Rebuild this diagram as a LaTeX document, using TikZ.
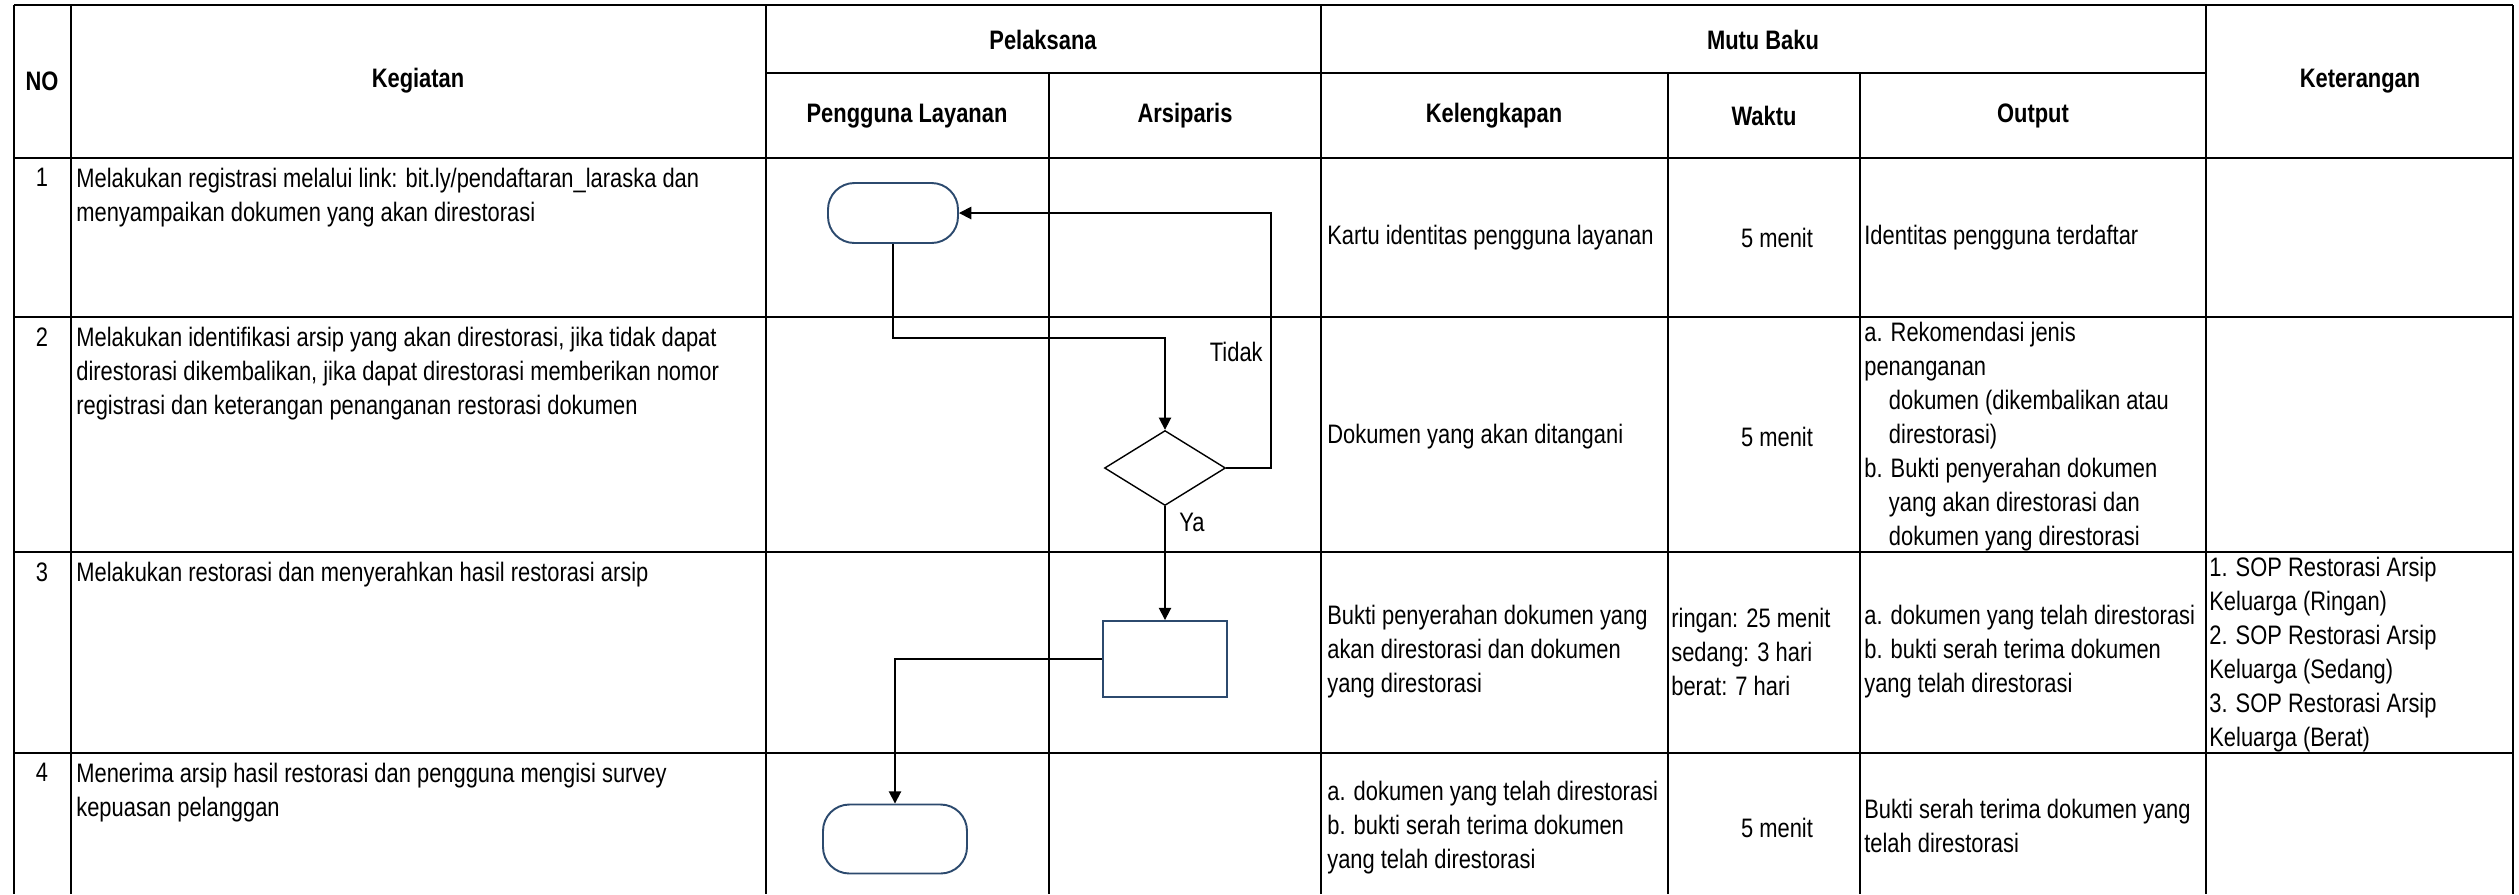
\documentclass[tikz,border=0pt]{standalone}
\usepackage{fontspec}
\setmainfont{Liberation Sans}[FakeStretch=0.82]
\usetikzlibrary{positioning, arrows.meta, shapes.geometric}
\definecolor{navy}{HTML}{2C4A6E}

\begin{document}
\begin{tikzpicture}[
    x=0.02cm, y=0.02cm,
    >={Triangle[length=7pt,width=7pt]},
    grid/.style={line width=1.55pt},
    flow/.style={->, line width=1pt},
    head/.style={font=\fontsize{15.2pt}{19.35pt}\selectfont\bfseries, inner sep=0pt},
    cell/.style={font=\fontsize{15.2pt}{19.35pt}\selectfont, align=left, inner sep=0pt},
    term/.style={draw=navy, line width=1.1pt, rounded corners=15pt},
    procbox/.style={draw=navy, line width=1.1pt, minimum width=2.48cm, minimum height=1.52cm},
    decision/.style={draw, diamond, line width=0.8pt, inner sep=0pt, minimum width=2.42cm, minimum height=1.5cm},
]
\useasboundingbox (0,0) rectangle (2519,-894);

% Table grid
\draw[grid] (14,-5) -- (2513,-5);
\draw[grid] (14,-5) -- (14,-894);
\draw[grid] (2513,-5) -- (2513,-894);
\foreach \x in {71, 766, 1321, 2206}
  \draw[grid] (\x,-5) -- (\x,-894);
\foreach \x in {1049, 1668, 1860}
  \draw[grid] (\x,-73) -- (\x,-894);
\draw[grid] (766,-73) -- (2206,-73);
\foreach \y in {158, 317, 552, 753}
  \draw[grid] (14,-\y) -- (2513,-\y);

% Header
\node[head] (hno) at (42,-81) {NO};
\node[head] (hkeg) at (418,-81) {Kegiatan};
\node[head] (hpel) at (1043,-40) {Pelaksana};
\node[head] (hmutu) at (1763,-40) {Mutu Baku};
\node[head] (hket) at (2360,-81) {Keterangan};
\node[head] (hpeng) at (907,-116) {Pengguna Layanan};
\node[head] (hars) at (1185,-116) {Arsiparis};
\node[head] (hkel) at (1494,-116) {Kelengkapan};
\node[head] (hwkt) at (1764,-116) {Waktu};
\node[head] (hout) at (2033,-116) {Output};

% Row 1
\node[cell, anchor=north] (no1) at (42,-168) {1};
\node[cell, anchor=north west] (keg1) at (76,-168) {Melakukan registrasi melalui link: bit.ly/pendaftaran\_laraska dan\\menyampaikan dokumen yang akan direstorasi};
\node[cell, anchor=west] (kel1) at (1327,-238) {Kartu identitas pengguna layanan};
\node[cell] (wkt1) at (1777,-238) {5 menit};
\node[cell, anchor=west] (out1) at (1864,-238) {Identitas pengguna terdaftar};

% Row 2
\node[cell, anchor=north] (no2) at (42,-327) {2};
\node[cell, anchor=north west] (keg2) at (76,-327) {Melakukan identifikasi arsip yang akan direstorasi, jika tidak dapat\\direstorasi dikembalikan, jika dapat direstorasi memberikan nomor\\registrasi dan keterangan penanganan restorasi dokumen};
\node[cell, anchor=west] (kel2) at (1327,-437) {Dokumen yang akan ditangani};
\node[cell] (wkt2) at (1777,-437) {5 menit};
\node[cell, anchor=west] (out2) at (1864,-437) {a. Rekomendasi jenis\\penanganan\\\hspace*{14pt}dokumen (dikembalikan atau\\\hspace*{14pt}direstorasi)\\b. Bukti penyerahan dokumen\\\hspace*{14pt}yang akan direstorasi dan\\\hspace*{14pt}dokumen yang direstorasi};

% Row 3
\node[cell, anchor=north] (no3) at (42,-562) {3};
\node[cell, anchor=north west] (keg3) at (76,-562) {Melakukan restorasi dan menyerahkan hasil restorasi arsip};
\node[cell, anchor=west] (kel3) at (1327,-652) {Bukti penyerahan dokumen yang\\akan direstorasi dan dokumen\\yang direstorasi};
\node[cell, anchor=west] (wkt3) at (1671,-652) {ringan: 25 menit\\sedang: 3 hari\\berat: 7 hari};
\node[cell, anchor=west] (out3) at (1864,-652) {a. dokumen yang telah direstorasi\\b. bukti serah terima dokumen\\yang telah direstorasi};
\node[cell, anchor=west] (ket3) at (2209,-655) {1. SOP Restorasi Arsip\\Keluarga (Ringan)\\2. SOP Restorasi Arsip\\Keluarga (Sedang)\\3. SOP Restorasi Arsip\\Keluarga (Berat)};

% Row 4
\node[cell, anchor=north] (no4) at (42,-763) {4};
\node[cell, anchor=north west] (keg4) at (76,-763) {Menerima arsip hasil restorasi dan pengguna mengisi survey\\kepuasan pelanggan};
\node[cell, anchor=west] (kel4) at (1327,-828) {a. dokumen yang telah direstorasi\\b. bukti serah terima dokumen\\yang telah direstorasi};
\node[cell] (wkt4) at (1777,-828) {5 menit};
\node[cell, anchor=west] (out4) at (1864,-826) {Bukti serah terima dokumen yang\\telah direstorasi};

% Flow shapes
\node[term, minimum width=2.6cm, minimum height=1.2cm] (term1) at (893,-213) {};
\node[decision] (dec2) at (1165,-468) {};
\node[procbox] (proc3) at (1165,-659) {};
\node[term, minimum width=2.88cm, minimum height=1.38cm] (term4) at (895,-839) {};

% Connectors
\draw[flow] (term1.south) -- ++(0,-94) -| (dec2.north);
\draw[flow] (dec2.east) -- ++(45,0) |- (term1.east);
\node[cell, anchor=east] (tidak) at (1263,-352) {Tidak};
\draw[flow] (dec2.south) -- (proc3.north);
\node[cell, anchor=west] (ya) at (1179,-522) {Ya};
\draw[flow] (proc3.west) -| (term4.north);

\end{tikzpicture}
\end{document}
